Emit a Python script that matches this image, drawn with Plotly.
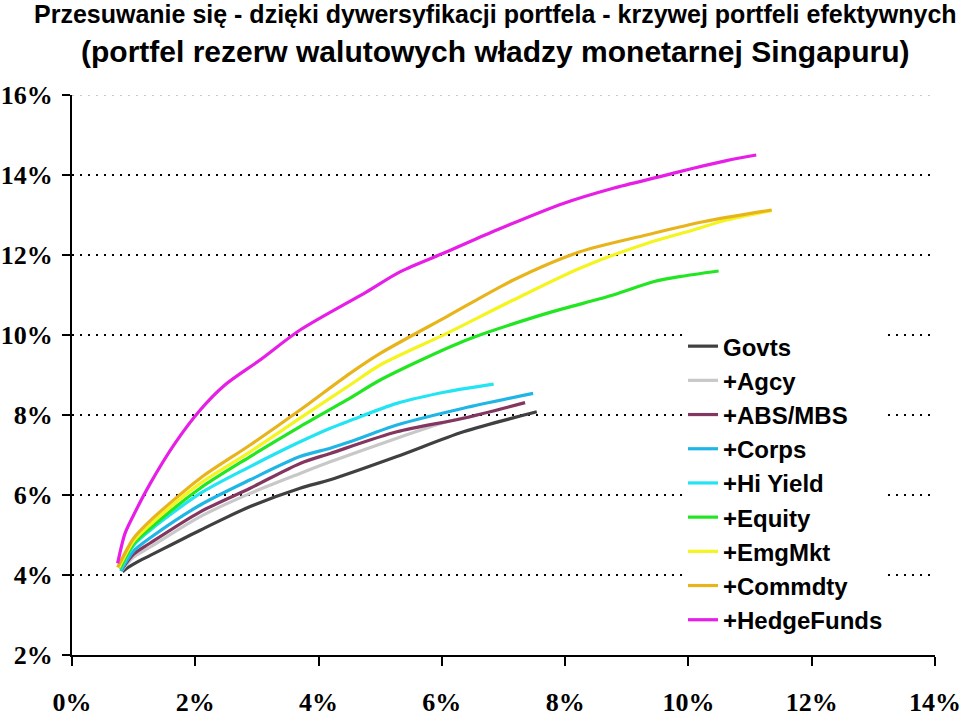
import plotly.graph_objects as go

names = ["Govts", "+Agcy", "+ABS/MBS", "+Corps", "+Hi Yield", "+Equity", "+EmgMkt", "+Commdty", "+HedgeFunds"]
colors = ["#404040", "#c8c8c8", "#833760", "#1fb6e6", "#22e4f2", "#22e622", "#f4f41e", "#e8b41c", "#e61ee6"]

govts_x = [0.82, 0.92, 1.10, 1.27, 2.08, 2.89, 3.70, 4.19, 5.27, 6.35, 7.54]
govts_y = [4.08, 4.20, 4.36, 4.49, 5.12, 5.71, 6.17, 6.38, 6.96, 7.58, 8.08]

agcy_x = [0.80, 1.00, 1.27, 2.08, 2.89, 3.70, 4.19, 5.27, 6.08, 6.40]
agcy_y = [4.10, 4.45, 4.70, 5.46, 6.04, 6.54, 6.83, 7.42, 7.83, 7.95]

abs_x = [0.80, 1.00, 1.27, 2.08, 2.89, 3.70, 4.19, 5.27, 6.35, 7.35]
abs_y = [4.12, 4.52, 4.80, 5.58, 6.17, 6.79, 7.04, 7.58, 7.92, 8.31]

corps_x = [0.79, 1.00, 1.27, 2.08, 2.89, 3.70, 4.19, 4.51, 5.27, 6.35, 7.48]
corps_y = [4.10, 4.60, 4.93, 5.75, 6.38, 6.96, 7.17, 7.33, 7.75, 8.17, 8.54]

hy_x = [0.79, 1.00, 1.27, 2.08, 2.89, 3.70, 4.19, 4.51, 5.27, 6.08, 6.84]
hy_y = [4.14, 4.74, 5.12, 6.04, 6.71, 7.33, 7.67, 7.86, 8.29, 8.58, 8.77]

eq_x = [0.78, 1.00, 1.27, 2.08, 2.89, 3.70, 4.51, 5.00, 6.40, 7.70, 8.78, 9.43, 9.86, 10.49]
eq_y = [4.16, 4.78, 5.17, 6.17, 6.96, 7.71, 8.42, 8.875, 9.875, 10.54, 11.00, 11.33, 11.46, 11.60]

em_x = [0.76, 1.00, 1.27, 2.08, 2.89, 3.70, 4.51, 5.00, 6.08, 7.16, 8.24, 9.32, 10.08, 10.62, 11.35]
em_y = [4.18, 4.85, 5.26, 6.29, 7.08, 7.92, 8.75, 9.25, 10.04, 10.875, 11.67, 12.29, 12.625, 12.875, 13.11]

com_x = [0.74, 1.00, 1.27, 2.08, 2.89, 3.70, 4.51, 5.00, 6.08, 7.16, 8.24, 9.32, 10.24, 11.35]
com_y = [4.19, 4.92, 5.36, 6.42, 7.25, 8.125, 9.04, 9.54, 10.46, 11.375, 12.08, 12.50, 12.83, 13.125]

hf_x = [0.74, 0.86, 1.00, 1.27, 1.67, 2.08, 2.48, 3.05, 3.70, 4.78, 5.32, 6.08, 6.89, 7.97, 8.78, 9.54, 10.08, 10.62, 11.10]
hf_y = [4.29, 5.04, 5.50, 6.29, 7.29, 8.125, 8.75, 9.375, 10.125, 11.08, 11.58, 12.08, 12.625, 13.29, 13.67, 13.96, 14.17, 14.36, 14.50]

series_x = [govts_x, agcy_x, abs_x, corps_x, hy_x, eq_x, em_x, com_x, hf_x]
series_y = [govts_y, agcy_y, abs_y, corps_y, hy_y, eq_y, em_y, com_y, hf_y]

x_ticks = [0, 2, 4, 6, 8, 10, 12, 14]
x_labels = ["0%", "2%", "4%", "6%", "8%", "10%", "12%", "14%"]
y_ticks = [2, 4, 6, 8, 10, 12, 14, 16]
y_labels = ["2%", "4%", "6%", "8%", "10%", "12%", "14%", "16%"]

title1 = "Przesuwanie się - dzięki dywersyfikacji portfela - krzywej portfeli efektywnych"
title2 = "(portfel rezerw walutowych władzy monetarnej Singapuru)"

fig = go.Figure()
for n, c, xs, ys in zip(names, colors, series_x, series_y):
    fig.add_trace(go.Scatter(x=xs, y=ys, mode="lines", name=n,
                             line=dict(color=c, width=3.2, shape="spline", smoothing=0.8)))

tickfont = dict(family="Liberation Serif, Times New Roman, serif", size=26, color="black", weight="bold")

fig.update_layout(
    width=960, height=718,
    margin=dict(l=72, r=25, t=95, b=63, autoexpand=False),
    paper_bgcolor="white", plot_bgcolor="white",
    showlegend=True,
    legend=dict(x=0.708, y=0.591, xanchor="left", yanchor="top",
                bgcolor="white", borderwidth=0,
                font=dict(family="Liberation Sans, Arial, sans-serif", size=24, color="black", weight="bold")),
    xaxis=dict(range=[0, 14], tickvals=x_ticks, ticktext=x_labels, showgrid=False,
               zeroline=False, showline=True, linecolor="black", linewidth=2,
               ticks="outside", ticklen=9, tickwidth=1.5, tickcolor="black",
               tickfont=tickfont, ticklabelstandoff=14, automargin=False,
               ticklabeloverflow="allow"),
    yaxis=dict(range=[2, 16], tickvals=y_ticks, ticktext=y_labels, showgrid=False,
               zeroline=False, showline=True, linecolor="black", linewidth=2,
               ticks="outside", ticklen=8, tickwidth=2, tickcolor="black",
               tickfont=tickfont, ticklabelstandoff=4, automargin=False,
               ticklabeloverflow="allow",
               minor=dict(tickvals=[4, 6, 8, 10, 12, 14], showgrid=True, gridcolor="black",
                          gridwidth=2, griddash="2px,6px", ticks="")),
    shapes=[dict(type="line", xref="paper", yref="y", x0=0, x1=1, y0=16, y1=16,
                 line=dict(color="#c8c8c8", width=2, dash="2px,6px"), layer="below")],
    annotations=[
        dict(text=title1, xref="paper", yref="paper", x=(495 - 72) / 863, y=1, yshift=81,
             showarrow=False, xanchor="center", yanchor="middle",
             font=dict(family="Liberation Sans, Arial, sans-serif", size=25, color="black", weight="bold")),
        dict(text=title2, xref="paper", yref="paper", x=(495 - 72) / 863, y=1, yshift=44,
             showarrow=False, xanchor="center", yanchor="middle",
             font=dict(family="Liberation Sans, Arial, sans-serif", size=30, color="black", weight="bold")),
    ],
)

fig.write_html("out.html", config={"displayModeBar": False},
               post_script="document.body.style.margin='0';")
